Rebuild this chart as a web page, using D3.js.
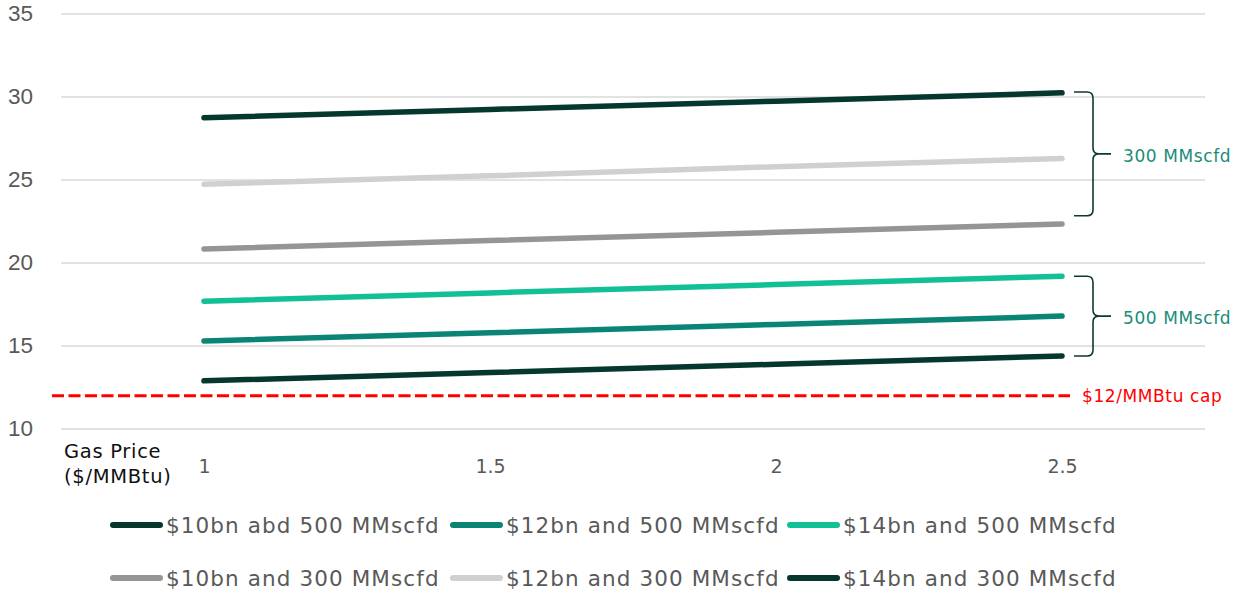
<!DOCTYPE html>
<html>
<head>
<meta charset="utf-8">
<script src="https://cdn.jsdelivr.net/npm/d3@7"></script>
<style>
  html, body { margin: 0; padding: 0; background: #fff; }
  svg { display: block; }
  .tick-y { font-family: "Liberation Sans", Arial, sans-serif; font-size: 22.5px; fill: #595959; }
  .tick-x { font-family: "DejaVu Sans", sans-serif; font-size: 19px; fill: #595959; }
  .legend text { font-family: "DejaVu Sans", sans-serif; font-size: 21.5px; letter-spacing: 1.1px; fill: #595959; }
  .note { font-family: "DejaVu Sans", sans-serif; font-size: 17px; letter-spacing: 0.6px; }
  .title { font-family: "DejaVu Sans", sans-serif; font-size: 19.5px; letter-spacing: 0.7px; fill: #111; }
</style>
</head>
<body>
<svg id="chart" width="1234" height="592"></svg>
<script>
// Gas price scenarios ($/MMBtu) on the x axis
const gasPrices = ["1", "1.5", "2", "2.5"];

// Break-even LNG price by capex / throughput scenario
const s10bn500 = [12.9, 13.4, 13.9, 14.4];
const s12bn500 = [15.3, 15.8, 16.3, 16.8];
const s14bn500 = [17.7, 18.2, 18.7, 19.2];
const s10bn300 = [20.85, 21.35, 21.85, 22.35];
const s12bn300 = [24.75, 25.25, 25.8, 26.3];
const s14bn300 = [28.75, 29.25, 29.75, 30.25];

const seriesNames = [
  "$10bn abd 500 MMscfd", "$12bn and 500 MMscfd", "$14bn and 500 MMscfd",
  "$10bn and 300 MMscfd", "$12bn and 300 MMscfd", "$14bn and 300 MMscfd"
];
const seriesValues = [s10bn500, s12bn500, s14bn500, s10bn300, s12bn300, s14bn300];
const seriesColors = ["#05372f", "#0a8575", "#12c096", "#959595", "#d0d0d0", "#05372f"];

const yTicks = [10, 15, 20, 25, 30, 35];
const priceCap = 12;
const capLabel = "$12/MMBtu cap";
// throughput groups marked by braces (value span on the y axis)
const groupLabels = ["300 MMscfd", "500 MMscfd"];
const groupSpans = [[22.85, 30.3], [14.4, 19.2]];

const svg = d3.select("#chart");
const plot = { left: 61, right: 1205, top: 14, bottom: 429 };

const x = d3.scalePoint().domain(gasPrices).range([plot.left, plot.right]).padding(0.5);
const y = d3.scaleLinear().domain([10, 35]).range([plot.bottom, plot.top]);

// horizontal gridlines
svg.append("g").selectAll("line").data(yTicks).join("line")
  .attr("x1", plot.left).attr("x2", plot.right)
  .attr("y1", d => y(d)).attr("y2", d => y(d))
  .attr("stroke", "#d9d9d9").attr("stroke-width", 1.3);

// y axis labels
const yAxis = svg.append("g")
  .attr("transform", `translate(${plot.left - 28},0)`)
  .call(d3.axisLeft(y).tickValues(yTicks).tickSize(0).tickPadding(0));
yAxis.select(".domain").remove();
yAxis.selectAll("text").attr("class", "tick-y").attr("dy", "0.3em")
  .attr("font-size", null).attr("font-family", null).attr("fill", null);

// x axis labels
const xAxis = svg.append("g")
  .attr("transform", `translate(0,${plot.bottom})`)
  .call(d3.axisBottom(x).tickSize(0).tickPadding(31));
xAxis.select(".domain").remove();
xAxis.selectAll("text").attr("class", "tick-x").attr("font-size", null).attr("font-family", null).attr("fill", null);

// axis title
svg.append("text").attr("class", "title").attr("x", 64).attr("y", 458)
  .selectAll("tspan").data(["Gas Price", "($/MMBtu)"]).join("tspan")
  .attr("x", 64).attr("dy", (d, i) => i ? 25 : 0).text(d => d);

// price cap reference line
svg.append("line")
  .attr("x1", 52).attr("x2", 1070)
  .attr("y1", y(priceCap)).attr("y2", y(priceCap))
  .attr("stroke", "#ff0000").attr("stroke-width", 3).attr("stroke-dasharray", "12,4.5");
svg.append("text").attr("class", "note")
  .attr("x", 1082).attr("y", y(priceCap) + 6).attr("fill", "#ff0000").text(capLabel);

// series lines
const line = d3.line().x((d, i) => x(gasPrices[i])).y(d => y(d));
svg.append("g").selectAll("path").data(seriesValues).join("path")
  .attr("d", line)
  .attr("fill", "none")
  .attr("stroke", (d, i) => seriesColors[i])
  .attr("stroke-width", 5.5)
  .attr("stroke-linecap", "round");

// curly braces grouping the throughput scenarios
const lastX = x(gasPrices[gasPrices.length - 1]);
function bracePath(x0, yTop, yBot) {
  const xm = x0 + 19, tip = x0 + 37, mid = (yTop + yBot) / 2, r = 6;
  return `M${x0},${yTop} L${xm - r},${yTop} Q${xm},${yTop} ${xm},${yTop + r}` +
    ` L${xm},${mid - r} Q${xm},${mid} ${xm + r},${mid} L${tip},${mid}` +
    ` M${xm + r},${mid} Q${xm},${mid} ${xm},${mid + r}` +
    ` L${xm},${yBot - r} Q${xm},${yBot} ${xm - r},${yBot} L${x0},${yBot}`;
}
groupLabels.forEach((label, i) => {
  const top = y(groupSpans[i][1]);
  const bot = y(groupSpans[i][0]);
  svg.append("path")
    .attr("d", bracePath(lastX + 12, top, bot))
    .attr("fill", "none").attr("stroke", "#0b3a33").attr("stroke-width", 1.6);
  svg.append("text").attr("class", "note")
    .attr("x", lastX + 61).attr("y", (top + bot) / 2 + 8)
    .attr("fill", "#1a8c7b").text(label);
});

// legend
const legendX = [110, 450, 787];
const legendY = [525, 578];
const legend = svg.append("g").attr("class", "legend");
seriesNames.forEach((name, i) => {
  const lx = legendX[i % 3], ly = legendY[Math.floor(i / 3)];
  legend.append("line")
    .attr("x1", lx + 3).attr("x2", lx + 50).attr("y1", ly).attr("y2", ly)
    .attr("stroke", seriesColors[i]).attr("stroke-width", 6).attr("stroke-linecap", "round");
  legend.append("text").attr("x", lx + 56).attr("y", ly + 7.5).text(name);
});
</script>
</body>
</html>
